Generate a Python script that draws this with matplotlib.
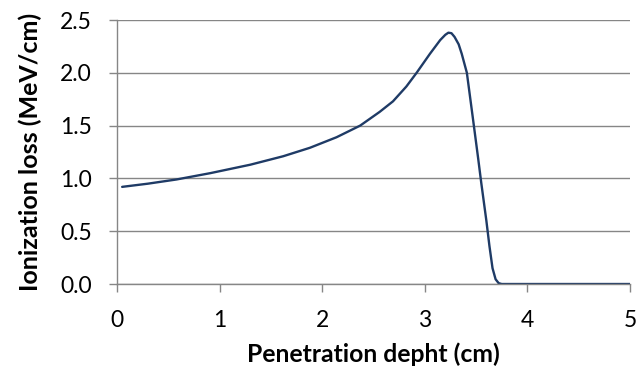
import numpy as np
import matplotlib.pyplot as plt

# depth-dose (Bragg) curve samples
depth = [0.05, 0.30, 0.58, 0.91, 1.30, 1.62, 1.88, 2.14, 2.37, 2.56, 2.69, 2.82,
         2.92, 3.05, 3.15, 3.20, 3.23, 3.26, 3.29, 3.33, 3.36, 3.41, 3.47, 3.52,
         3.55, 3.60, 3.63, 3.66, 3.69, 3.72, 3.75, 3.80, 5.00]
loss = [0.92, 0.95, 0.99, 1.05, 1.13, 1.21, 1.29, 1.39, 1.50, 1.63, 1.73, 1.87,
        2.00, 2.18, 2.31, 2.36, 2.38, 2.375, 2.34, 2.27, 2.18, 2.00, 1.56, 1.19,
        0.96, 0.60, 0.36, 0.15, 0.045, 0.008, 0.0, 0.0, 0.0]

plt.rcParams['font.family'] = ['Lato', 'DejaVu Sans']

fig = plt.figure(figsize=(6.37, 3.74), dpi=100)
ax = fig.add_axes([0.1837, 0.2406, 0.8053, 0.7059])

ax.plot(depth, loss, color='#1f3b66', lw=1.7, solid_joinstyle='round',
        solid_capstyle='round')

ax.set_xlim(0, 5)
ax.set_ylim(0, 2.5)
ax.set_xticks(np.arange(0, 6, 1))
ax.set_yticks(np.arange(0, 2.51, 0.5))
ax.set_yticklabels(['%.1f' % v for v in np.arange(0, 2.51, 0.5)])

ax.yaxis.grid(True, color='#868686', lw=1.0)
ax.set_axisbelow(True)
for s in ['top', 'right']:
    ax.spines[s].set_visible(False)
for s in ['left', 'bottom']:
    ax.spines[s].set_color('#868686')
    ax.spines[s].set_linewidth(1.0)
ax.tick_params(colors='#868686', length=6, width=1.0, labelsize=16.5, labelcolor='black')
ax.tick_params(axis='x', pad=13)
ax.tick_params(axis='y', pad=12)

ax.set_xlabel('Penetration depht (cm)', fontsize=17.8, fontweight='bold', labelpad=8)
ax.set_ylabel('Ionization loss (MeV/cm)', fontsize=18, fontweight='bold', labelpad=13)

fig.savefig('out.png', dpi=100)
